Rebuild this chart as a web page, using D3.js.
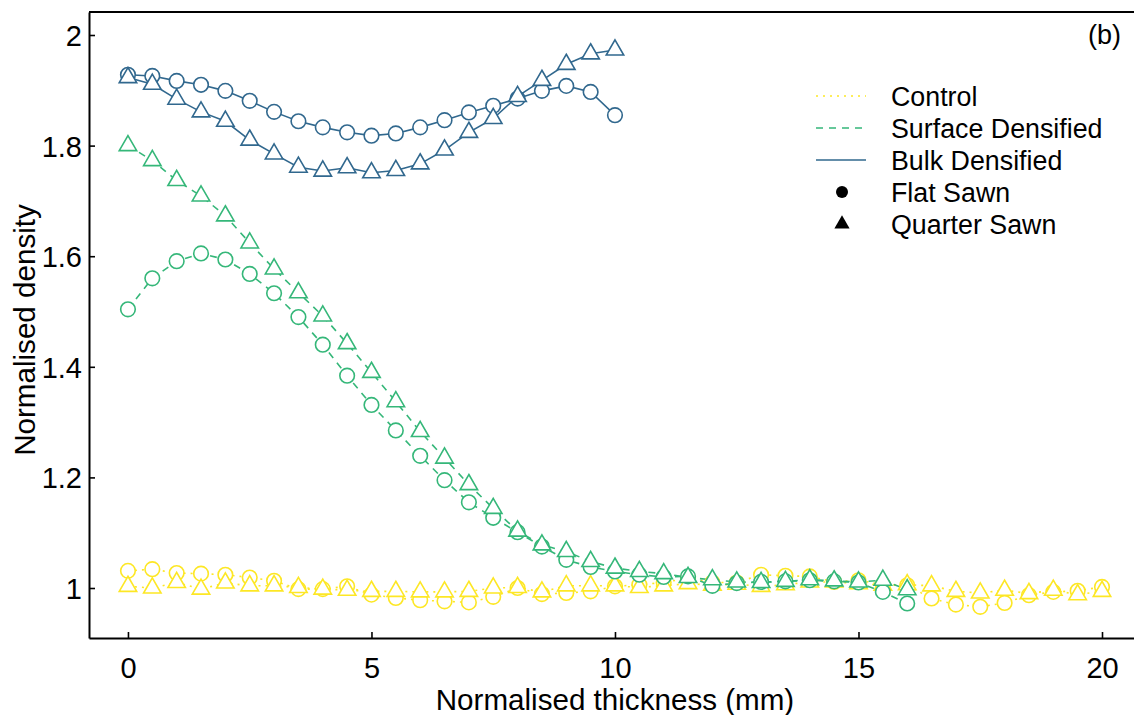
<!DOCTYPE html>
<html><head><meta charset="utf-8">
<script src="https://cdn.jsdelivr.net/npm/d3@7"></script>
<style>
html,body{margin:0;padding:0;background:#fff;}
svg{display:block;font-family:"Liberation Sans",Arial,sans-serif;}
</style></head>
<body><svg id="c" width="1134" height="715"></svg>
<script>
const thickness = [0,0.5,1,1.5,2,2.5,3,3.5,4,4.5,5,5.5,6,6.5,7,7.5,8,8.5,9,9.5,10,10.5,11,11.5,12,12.5,13,13.5,14,14.5,15,15.5,16,16.5,17,17.5,18,18.5,19,19.5,20];
const controlFlat = [1.031,1.034,1.027,1.026,1.024,1.019,1.013,0.998,0.998,1.003,0.988,0.982,0.978,0.976,0.974,0.984,1.000,0.989,0.991,0.994,1.003,1.006,1.010,1.018,1.010,1.010,1.024,1.022,1.021,1.011,1.014,1.006,1.005,0.981,0.970,0.966,0.973,0.987,0.993,0.995,1.002];
const controlQuarter = [1.003,1.000,1.010,0.998,1.009,1.004,1.004,1.001,0.998,0.996,0.994,0.994,0.993,0.993,0.994,1.000,1.001,0.993,1.004,1.004,1.004,1.001,1.004,1.008,1.005,1.007,1.003,1.006,1.011,1.011,1.008,1.005,1.006,1.004,0.994,0.991,0.996,0.990,0.996,0.988,0.994];
const surfaceFlat = [1.504,1.560,1.591,1.605,1.594,1.568,1.533,1.490,1.440,1.384,1.331,1.285,1.239,1.195,1.155,1.127,1.101,1.075,1.051,1.038,1.030,1.024,1.020,1.021,1.004,1.009,1.011,1.012,1.014,1.012,1.010,0.993,0.972];
const surfaceQuarter = [1.800,1.773,1.737,1.709,1.673,1.624,1.577,1.534,1.492,1.442,1.390,1.337,1.283,1.235,1.187,1.144,1.103,1.078,1.066,1.048,1.036,1.030,1.026,1.019,1.015,1.011,1.010,1.012,1.015,1.013,1.011,1.014,0.997];
const bulkFlat = [1.928,1.926,1.917,1.910,1.899,1.881,1.861,1.844,1.833,1.824,1.818,1.822,1.833,1.846,1.860,1.872,1.885,1.899,1.908,1.897,1.855];
const bulkQuarter = [1.923,1.911,1.884,1.861,1.844,1.810,1.785,1.761,1.754,1.760,1.751,1.755,1.767,1.792,1.824,1.849,1.889,1.918,1.947,1.966,1.973];

const xTicks = [0,5,10,15,20];
const yTicks = [1,1.2,1.4,1.6,1.8,2];
const yTickLabels = ["1","1.2","1.4","1.6","1.8","2"];
const treatments = ["Control","Surface Densified","Bulk Densified"];
const sawing = ["Flat Sawn","Quarter Sawn"];
const colors = {"Control":"#FDE725","Surface Densified":"#35B779","Bulk Densified":"#31688E"};
const dashes = {"Control":"2,5","Surface Densified":"7,6","Bulk Densified":null};

const series = [
  {t:"Control", s:"Flat Sawn", v:controlFlat},
  {t:"Control", s:"Quarter Sawn", v:controlQuarter},
  {t:"Surface Densified", s:"Flat Sawn", v:surfaceFlat},
  {t:"Surface Densified", s:"Quarter Sawn", v:surfaceQuarter},
  {t:"Bulk Densified", s:"Flat Sawn", v:bulkFlat},
  {t:"Bulk Densified", s:"Quarter Sawn", v:bulkQuarter}
];

const svg = d3.select("#c");
const L=89, R=1134, T=12, B=638;
const x = d3.scaleLinear().domain([-0.8, 20.657]).range([L, R]);
const y = d3.scaleLinear().domain([0.9096, 2.0416]).range([B, T]);

// lines
const line = d3.line().x(d=>x(d[0])).y(d=>y(d[1]));
series.forEach(sr=>{
  const pts = sr.v.map((val,i)=>[thickness[i], val]);
  svg.append("path").attr("d", line(pts)).attr("fill","none")
    .attr("stroke", colors[sr.t]).attr("stroke-width",1.6)
    .attr("stroke-dasharray", dashes[sr.t]);
});
// points
const tri = d3.symbol().type(d3.symbolTriangle).size(132);
series.forEach(sr=>{
  const pts = sr.v.map((val,i)=>[thickness[i], val]);
  const g = svg.append("g");
  if (sr.s==="Flat Sawn") {
    g.selectAll("circle").data(pts).join("circle")
      .attr("cx",d=>x(d[0])).attr("cy",d=>y(d[1])).attr("r",7.3)
      .attr("fill","#fff").attr("stroke",colors[sr.t]).attr("stroke-width",1.6);
  } else {
    g.selectAll("path").data(pts).join("path")
      .attr("d", tri).attr("transform",d=>`translate(${x(d[0])},${y(d[1])})`)
      .attr("fill","#fff").attr("stroke",colors[sr.t]).attr("stroke-width",1.6);
  }
});

// axes
const xAxis = svg.append("g").attr("transform",`translate(0,${B})`)
  .call(d3.axisBottom(x).tickValues(xTicks).tickSizeInner(-6).tickSizeOuter(0).tickFormat(d3.format("d")));
xAxis.selectAll("text").attr("y",40).attr("dy",null).attr("font-size",29).attr("fill","#000");
const yAxis = svg.append("g").attr("transform",`translate(${L},0)`)
  .call(d3.axisLeft(y).tickValues(yTicks).tickSizeInner(-6).tickSizeOuter(0).tickFormat((d,i)=>yTickLabels[i]));
yAxis.selectAll("text").attr("x",-7).attr("dy","0.36em").attr("font-size",29).attr("fill","#000");
[xAxis,yAxis].forEach(a=>{a.selectAll(".domain").attr("stroke","#000").attr("stroke-width",2);
  a.selectAll(".tick line").attr("stroke","#000").attr("stroke-width",1.6); a.attr("font-family",null);});
svg.append("line").attr("x1",L).attr("x2",R).attr("y1",T).attr("y2",T).attr("stroke","#000").attr("stroke-width",2);

// titles
svg.append("text").attr("x",x(10)).attr("y",710).attr("text-anchor","middle").attr("font-size",29.6)
  .text("Normalised thickness (mm)");
svg.append("text").attr("transform",`translate(35,${330}) rotate(-90)`).attr("text-anchor","middle").attr("font-size",29.6)
  .text("Normalised density");
svg.append("text").attr("x",1121).attr("y",44).attr("text-anchor","end").attr("font-size",27).text("(b)");

// legend
const lg = svg.append("g");
const ly0 = 96, lstep = 32;
treatments.forEach((t,i)=>{
  const yy = ly0 + i*lstep;
  lg.append("line").attr("x1",816).attr("x2",866).attr("y1",yy).attr("y2",yy)
    .attr("stroke",colors[t]).attr("stroke-width",1.6).attr("stroke-dasharray",dashes[t]);
  lg.append("text").attr("x",891).attr("y",yy).attr("dy","0.36em").attr("font-size",26.8).text(t);
});
sawing.forEach((s,j)=>{
  const yy = ly0 + (3+j)*lstep;
  if (j===0) lg.append("circle").attr("cx",842).attr("cy",yy).attr("r",6).attr("fill","#000");
  else lg.append("path").attr("d",d3.symbol().type(d3.symbolTriangle).size(100)).attr("transform",`translate(842,${yy})`).attr("fill","#000");
  lg.append("text").attr("x",891).attr("y",yy).attr("dy","0.36em").attr("font-size",26.8).text(s);
});
</script></body></html>
